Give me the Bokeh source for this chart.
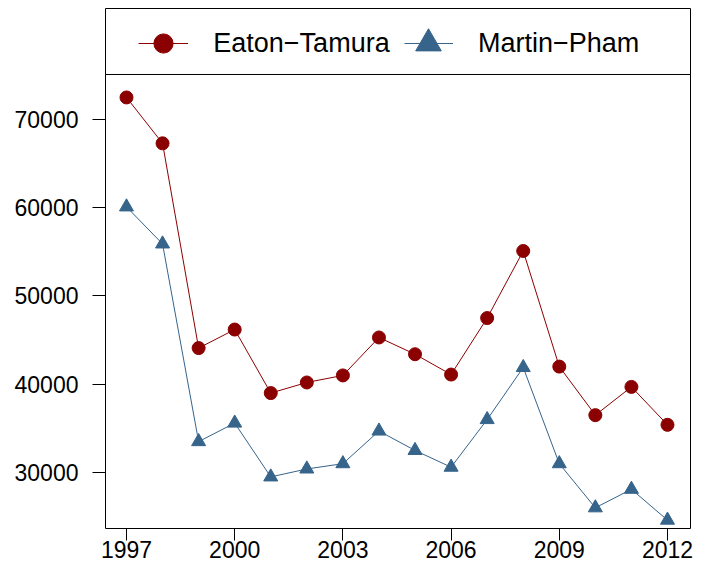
from bokeh.plotting import figure
from bokeh.models import FixedTicker, Span, Legend, LegendItem, Range1d, BasicTickFormatter
from bokeh.core.properties import value
from bokeh.embed import file_html
from bokeh.resources import INLINE

years = list(range(1997, 2013))
eaton_tamura = [72500, 67300, 44100, 46200, 39000, 40200, 41000, 45300,
                43400, 41100, 47500, 55100, 42000, 36500, 39700, 35400]
martin_pham = [60100, 55900, 33500, 35600, 29500, 30400, 31000, 34700,
               32500, 30600, 36000, 41900, 31000, 26000, 28100, 24600]
x_ticks = [1997, 2000, 2003, 2006, 2009, 2012]
y_ticks = [30000, 40000, 50000, 60000, 70000]
series_names = ["Eaton\u2212Tamura", "Martin\u2212Pham"]
red = "#8B0000"
blue = "#36648B"
FONT = "Liberation Sans"

p = figure(width=693, height=566, output_backend="svg", toolbar_location=None,
           x_range=Range1d(1996.418, 2012.638), y_range=Range1d(23654, 82578),
           min_border_left=105, min_border_right=3, min_border_top=8, min_border_bottom=38)
p.grid.visible = False
p.outline_line_color = "black"
p.outline_line_width = 1
p.outline_line_alpha = 1
p.background_fill_color = "white"
p.border_fill_color = "white"

for ax in (p.xaxis, p.yaxis):
    ax.axis_line_color = None
    ax.major_tick_out = 13
    ax.major_tick_in = 0
    ax.minor_tick_line_color = None
    ax.major_tick_line_color = "black"
    ax.major_tick_line_width = 1
    ax.major_label_text_font = FONT
    ax.major_label_text_font_size = "23px"
    ax.major_label_text_color = "black"
p.xaxis.major_tick_out = 12
p.xaxis.ticker = FixedTicker(ticks=x_ticks)
p.yaxis.ticker = FixedTicker(ticks=y_ticks)
p.yaxis.formatter = BasicTickFormatter(use_scientific=False)
p.xaxis.major_label_standoff = 0
p.yaxis.major_label_standoff = 14

p.add_layout(Span(location=75100, dimension="width", line_color="black", line_width=1))

r1l = p.line(years, eaton_tamura, line_color=red, line_width=1)
r1m = p.scatter(years, eaton_tamura, marker="circle", size=13, fill_color=red, line_color=red)
r2l = p.line(years, martin_pham, line_color=blue, line_width=1)
r2m = p.scatter(years, martin_pham, marker="triangle", size=14, fill_color=blue, line_color=blue)

def mk_legend(items, loc, gw, gh):
    return Legend(items=items, location=loc, orientation="horizontal",
                  padding=0, margin=0, spacing=0, label_standoff=25,
                  glyph_width=gw, glyph_height=gh,
                  border_line_alpha=0, background_fill_alpha=0,
                  label_text_font=FONT, label_text_font_size="27px",
                  label_text_color="black")

legA = mk_legend([LegendItem(label=value(series_names[0]), renderers=[r1l, r1m])], (33.3, 460.7), 50, 48)
legB = mk_legend([LegendItem(label=value(series_names[1]), renderers=[r2l])], (299, 460.7), 49, 48)
legC = mk_legend([LegendItem(label=value(" "), renderers=[r2m])], (291.3, 452.7), 64, 64)
p.add_layout(legA)
p.add_layout(legB)
p.add_layout(legC)

open("out.html", "w").write(file_html(p, INLINE))
